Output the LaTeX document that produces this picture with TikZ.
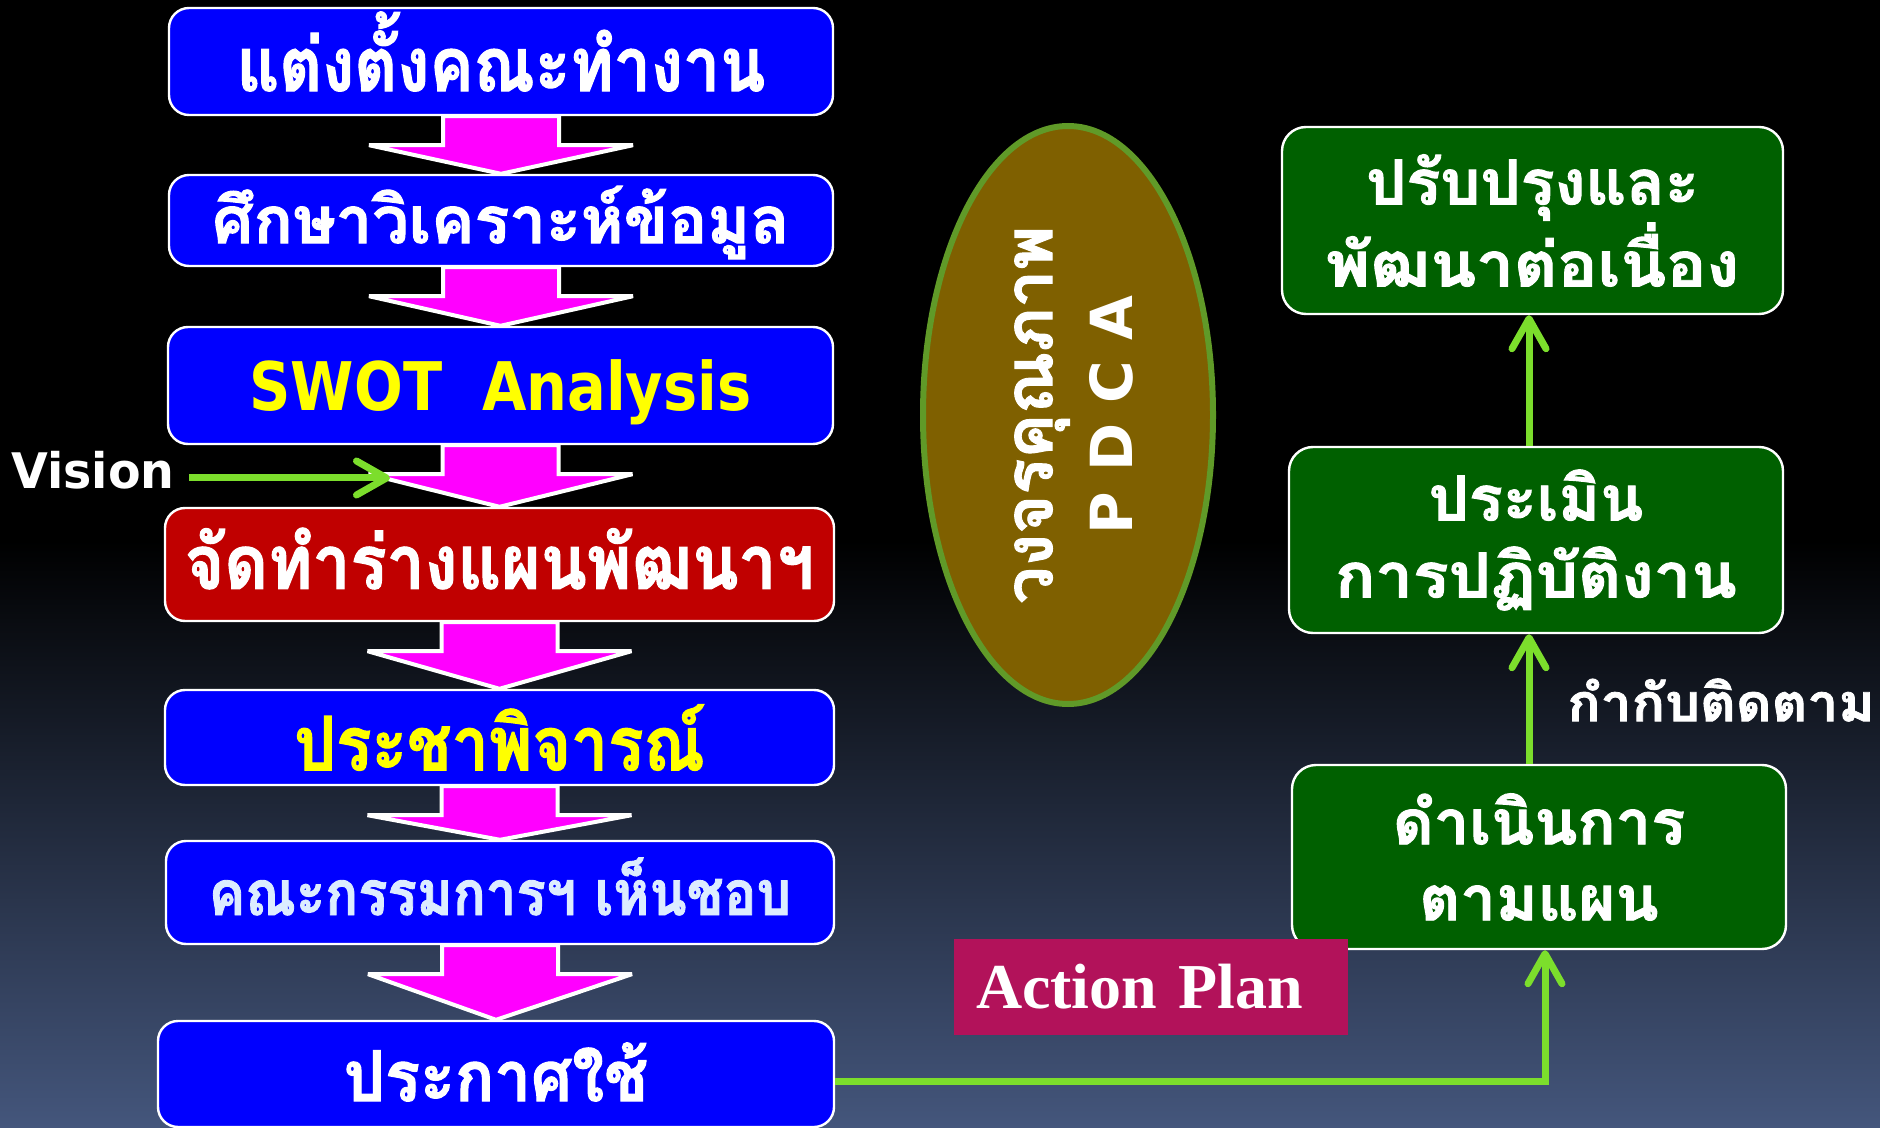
\documentclass[tikz,border=0pt]{standalone}
\usepackage{fontspec}
\usepackage{graphicx}
\usetikzlibrary{calc,arrows.meta,shapes.geometric}
\newfontfamily\thai[Script=Thai, BoldFeatures={FakeBold=1.5}]{Loma}
\newfontfamily\dvs{DejaVu Sans}
\newfontfamily\lser{Liberation Serif}
\definecolor{boxblue}{RGB}{0,0,255}
\definecolor{boxred}{RGB}{192,0,0}
\definecolor{boxgreen}{RGB}{0,96,0}
\definecolor{limecol}{RGB}{124,222,44}
\definecolor{olivecol}{RGB}{127,96,0}
\definecolor{ellborder}{RGB}{96,154,40}
\definecolor{apcol}{RGB}{178,18,90}
\definecolor{palecol}{RGB}{220,236,255}
\definecolor{bgbot}{RGB}{68,86,124}
\definecolor{magcol}{RGB}{255,0,255}
\definecolor{yellowcol}{RGB}{255,255,0}
% \tx{raise}{hscale}{text}
\newcommand\tx[3]{\raisebox{#1}[\height][\depth]{\scalebox{#2}[1]{#3}}}
\newcommand\fsz[1]{\fontsize{#1}{1.2\dimexpr#1\relax}\selectfont}
\newcommand\blockarr[2]{\draw[blk] ($(#1.south)+(-58,0)$) -- ++(0,29) -- ++(-74,0) -- (#2.north) -- ($(#1.south)+(132,29)$) -- ++(-74,0) -- ++(0,-29) -- cycle;}
\begin{document}
\begin{tikzpicture}[x=0.5pt,y=-0.5pt,
  lbox/.style={draw=white, line width=1.2pt, rounded corners=10pt, fill=boxblue, inner sep=0pt, text=white},
  gbox/.style={draw=white, line width=1.2pt, rounded corners=12pt, fill=boxgreen, inner sep=0pt, text=white, align=center},
  blk/.style={fill=magcol, draw=white, line width=2pt, line join=miter, miter limit=1.5},
  garrow/.style={draw=limecol, line width=3.5pt, -{Straight Barb[length=15pt,width=17pt,round]}},
]
\useasboundingbox (0,0) rectangle (1880,1128);
\fill[black] (0,0) rectangle (1880,1128);
\shade[top color=black, bottom color=bgbot] (0,540) rectangle (1880,1128);

% left column
\node[lbox, minimum width=332pt, minimum height=53.5pt, font=\thai\bfseries\fsz{37.5pt}] (b1) at (501,61.5) {\tx{5pt}{0.88}{แต่งตั้งคณะทำงาน}};
\node[lbox, minimum width=332pt, minimum height=45.5pt, font=\thai\bfseries\fsz{32.5pt}] (b2) at (501,220.5) {\tx{-1pt}{1}{ศึกษาวิเคราะห์ข้อมูล}};
\node[lbox, minimum width=332.5pt, minimum height=58.5pt, text=yellowcol, font=\dvs\bfseries\fsz{33.5pt}] (b3) at (500.5,385.5) {\tx{-3.5pt}{0.857}{SWOT\ \ Analysis}};
\node[lbox, fill=boxred, minimum width=334.5pt, minimum height=56.5pt, font=\thai\bfseries\fsz{37.5pt}] (b4) at (499.5,564.5) {\tx{3pt}{0.9}{จัดทำร่างแผนพัฒนาฯ}};
\node[lbox, minimum width=334.5pt, minimum height=47.5pt, text=yellowcol, font=\thai\bfseries\fsz{37.5pt}] (b5) at (499.5,737.5) {\tx{0pt}{0.88}{ประชาพิจารณ์}};
\node[lbox, minimum width=334pt, minimum height=51.5pt, text=palecol, font=\thai\bfseries\fsz{31pt}] (b6) at (500,892.5) {\tx{3pt}{0.88}{คณะกรรมการฯ เห็นชอบ}};
\node[lbox, minimum width=338pt, minimum height=53pt, font=\thai\bfseries\fsz{35pt}] (b7) at (496,1074) {\tx{1pt}{0.93}{ประกาศใช้}};

\blockarr{b1}{b2}
\blockarr{b2}{b3}
\blockarr{b3}{b4}
\blockarr{b4}{b5}
\blockarr{b5}{b6}
\blockarr{b6}{b7}

% vision
\node[font=\dvs\bfseries\fsz{24.5pt}, text=white, anchor=base west, inner sep=0pt] (vision) at (11,488) {\scalebox{0.97}[1]{Vision}};
\coordinate (vtip) at (390,478);
\draw[garrow] ([xshift=7pt]vision.east |- vtip) -- (vtip);

% ellipse
\node[ellipse, draw=ellborder, line width=3pt, fill=olivecol, minimum width=289pt, minimum height=145pt, rotate=90, align=center, text=white, inner sep=0pt, font=\bfseries\fsz{33.5pt}] (pdca) at (1068,415) {{\thai\tx{-3pt}{1}{วงจรคุณภาพ}}\\{\dvs\fontsize{29pt}{34pt}\selectfont\tx{-3pt}{1}{P D C A}}};

% right column
\node[gbox, minimum width=250.5pt, minimum height=93.5pt, font=\thai\bfseries\fontsize{31pt}{38.5pt}\selectfont] (g1) at (1532.5,220.5) {\tx{0pt}{1.02}{ปรับปรุงและ}\\\tx{0pt}{1.08}{พัฒนาต่อเนื่อง}};
\node[gbox, minimum width=247pt, minimum height=93pt, font=\thai\bfseries\fontsize{31pt}{38.5pt}\selectfont] (g2) at (1536,540) {\tx{0pt}{1.02}{ประเมิน}\\\tx{0pt}{1.075}{การปฏิบัติงาน}};
\node[gbox, minimum width=247pt, minimum height=92pt, font=\thai\bfseries\fontsize{31pt}{38pt}\selectfont] (g3) at (1539,857) {\tx{0pt}{1.02}{ดำเนินการ}\\\tx{0pt}{1.02}{ตามแผน}};

\draw[garrow] ([xshift=-3.5pt]g2.north) -- ([xshift=-3.5pt]g2.north |- g1.south);
\draw[garrow] ([xshift=-5pt]g3.north) -- ([xshift=-5pt]g3.north |- g2.south);
\node[font=\thai\bfseries\fsz{26pt}, text=white, anchor=west, inner sep=0pt] (mon) at (1567,700) {\scalebox{1.06}[1]{กำกับติดตาม}};

% action plan
\node[fill=apcol, minimum width=197pt, minimum height=48pt, text width=175pt, align=left, inner xsep=11pt, inner ysep=0pt, text=white, font=\lser\bfseries\fsz{32pt}] (ap) at (1151,987) {Action Plan};

\draw[garrow] ([yshift=-3.5pt]b7.east) -| ([xshift=3pt]g3.south);
\end{tikzpicture}
\end{document}
